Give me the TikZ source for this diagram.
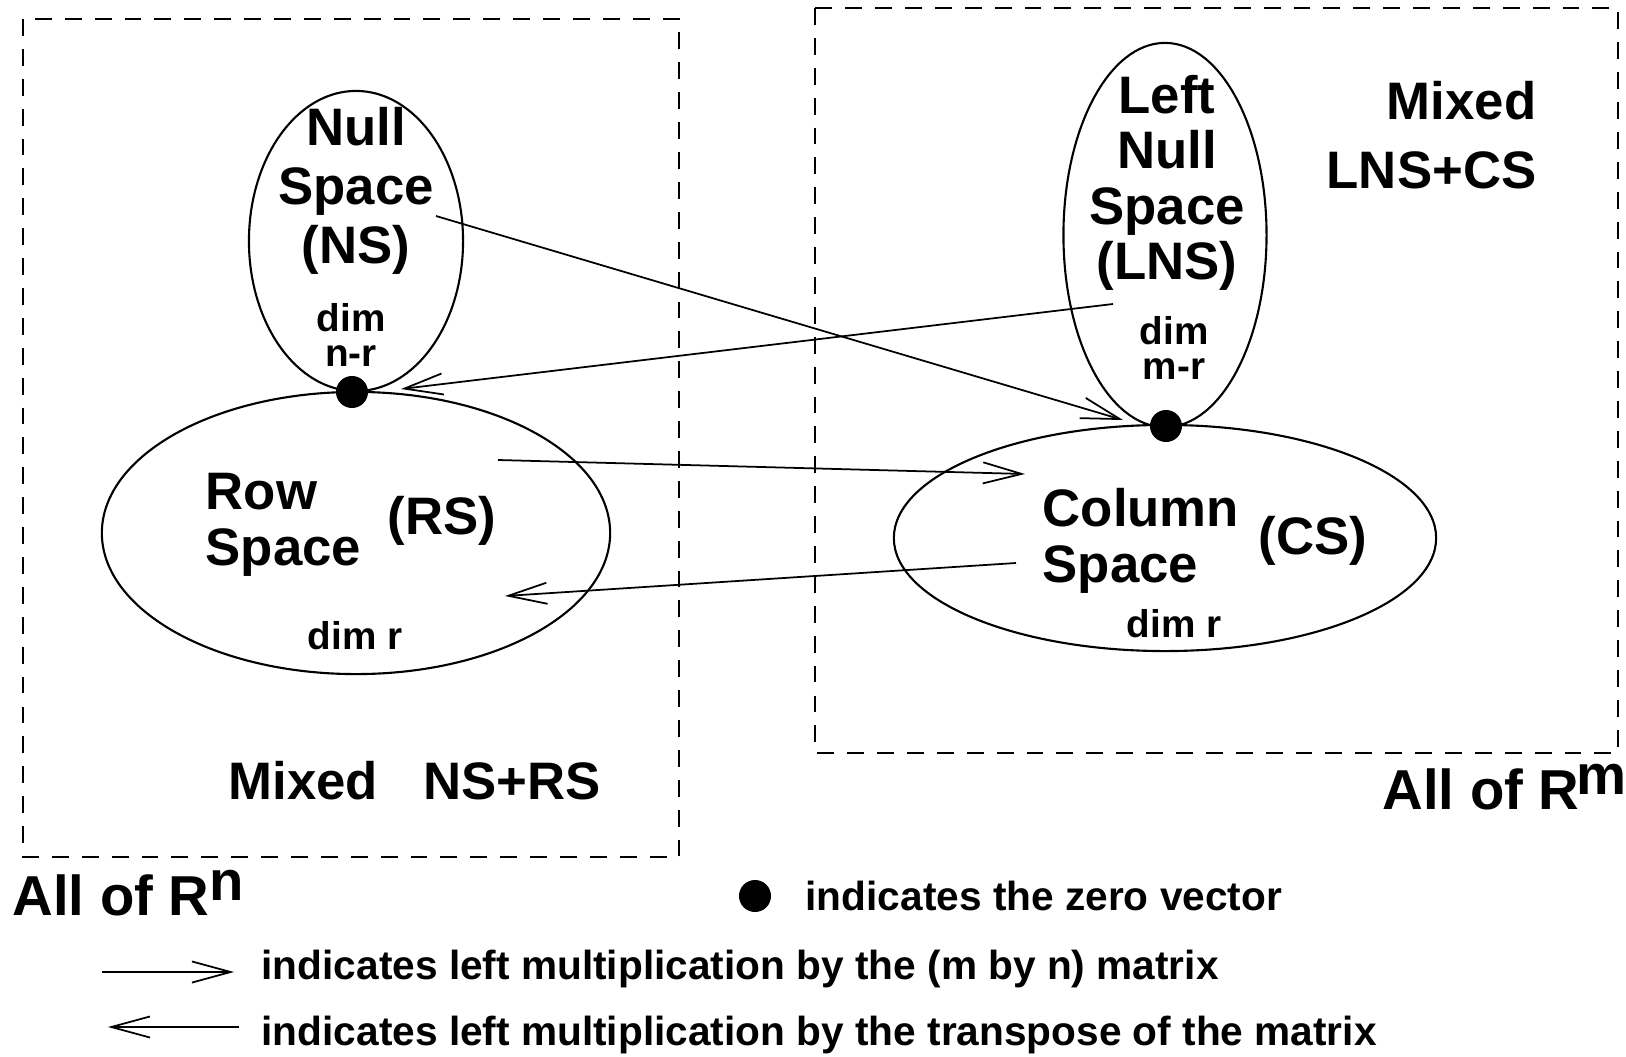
\documentclass[tikz,border=0pt]{standalone}
\usepackage{fontspec}
\setmainfont{Liberation Sans}
\usetikzlibrary{shapes.geometric, arrows.meta, positioning}
\begin{document}
\begin{tikzpicture}
  [
    x=0.01cm, y=-0.01cm,
    Sub/.style={ellipse, draw=black, line width=0.6pt, inner sep=0pt},
    Dot/.style={circle, fill=black, inner sep=0pt, minimum size=3.2mm},
    Big/.style={font=\fontsize{15}{16}\selectfont\bfseries, align=center, inner sep=0pt},
    Small/.style={font=\fontsize{11}{10}\selectfont\bfseries, align=center, inner sep=0pt},
    Note/.style={font=\fontsize{11.55}{13}\selectfont\bfseries, inner sep=0pt, anchor=base west},
    Map/.style={-{Straight Barb[length=11pt, width=6pt]}, line width=0.5pt},
    Box/.style={draw=black, line width=0.6pt, dash pattern=on 4.8pt off 3.7pt}
  ]
  \useasboundingbox (0, 0) rectangle (1626, 1057);
  % Boxes
  \draw[Box] (23, 19) rectangle (679, 857);
  \draw[Box] (815, 8) rectangle (1618, 753);
  % Subspaces
  \node[Sub, minimum width=2.14cm, minimum height=3.00cm] (ns) at (356, 241) {};
  \node[Sub, minimum width=5.08cm, minimum height=2.82cm] (rs) at (356, 533) {};
  \node[Sub, minimum width=2.03cm, minimum height=3.84cm] (lns) at (1165, 235) {};
  \node[Sub, minimum width=5.42cm, minimum height=2.26cm] (cs) at (1165, 538) {};
  \node[Dot] (zns) at (352, 392) {};
  \node[Dot] (zlns) at (1166, 426) {};
  % Labels
  \node[Big, font=\fontsize{15}{16.8}\selectfont\bfseries] (nslbl) at (356, 191) {Null\\Space\\(NS)};
  \node[Small] (nsdim) at (351, 335) {dim\\n-r};
  \node[Big, font=\fontsize{15}{15.8}\selectfont\bfseries] (lnslbl) at (1167, 183) {Left\\Null\\Space\\(LNS)};
  \node[Small] (lnsdim) at (1174, 348) {dim\\m-r};
  \node[Big, align=right, font=\fontsize{15}{19.7}\selectfont\bfseries, anchor=east] (mixcs) at (1537, 135) {Mixed\\LNS+CS};
  \node[Big, align=left, anchor=west] (rslbl) at (205, 525) {Row\\Space};
  \node[Big] (rsabbr) at (442, 521) {(RS)};
  \node[Small] (rsdim) at (355, 636) {dim r};
  \node[Big, align=left, anchor=west] (cslbl) at (1042, 541) {Column\\Space};
  \node[Big] (csabbr) at (1313, 541) {(CS)};
  \node[Small] (csdim) at (1174, 624) {dim r};
  \node[Big, anchor=west] (mixrs) at (228, 781) {Mixed\hspace{0.85em}NS+RS};
  \node[Big, anchor=base west, font=\fontsize{16}{16}\selectfont\bfseries] (allrn) at (12, 915) {All of R\raisebox{4pt}{n}};
  \node[Big, anchor=base west, font=\fontsize{16}{16}\selectfont\bfseries] (allrm) at (1382, 809) {All of R\hspace{-1pt}\raisebox{4pt}{m}};
  % Legend
  \node[Dot] (zkey) at (755, 896) {};
  \node[Note] (zlbl) at (805, 910) {indicates the zero vector};
  \node[Note] (fwdlbl) at (261, 979) {indicates left multiplication by the (m by n) matrix};
  \node[Note] (bcklbl) at (261, 1045) {indicates left multiplication by the transpose of the matrix};
  % Arrow ends
  \coordinate (nsout) at (436, 216);
  \coordinate (lnsin) at (1123, 420);
  \coordinate (lnsout) at (1113, 304);
  \coordinate (nsin) at (401, 389);
  \coordinate (rsout) at (498, 460);
  \coordinate (csin) at (1025, 474);
  \coordinate (csout) at (1016, 563);
  \coordinate (rsin) at (505, 596);
  \coordinate (fwds) at (102, 972);
  \coordinate (fwde) at (234, 972);
  \coordinate (bcks) at (239, 1027);
  \coordinate (bcke) at (108, 1027);
  % Lines
  \path [Map, draw] (nsout) -- (lnsin);
  \path [Map, draw] (lnsout) -- (nsin);
  \path [Map, draw] (rsout) -- (csin);
  \path [Map, draw] (csout) -- (rsin);
  \path [Map, draw] (fwds) -- (fwde);
  \path [Map, draw] (bcks) -- (bcke);
\end{tikzpicture}
\end{document}
